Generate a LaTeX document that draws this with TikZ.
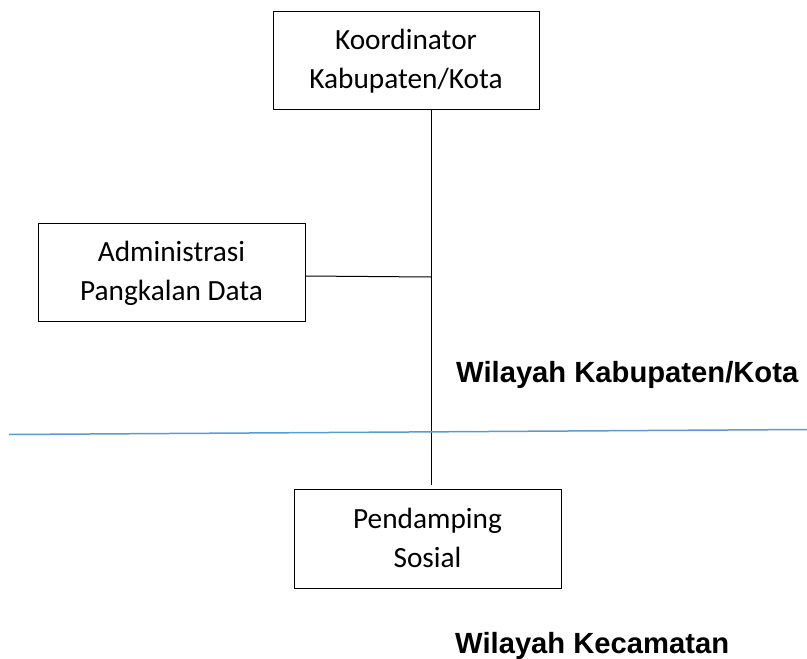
\documentclass[tikz,border=0pt]{standalone}
\usepackage{fontspec}
\setmainfont{Carlito}
\newfontfamily\arialfont{Liberation Sans}
\usetikzlibrary{calc}
\newcommand\lnstrut{\rule[-10pt]{0pt}{38pt}}
\tikzset{
  orgbox/.style={draw=black, line width=1pt, rectangle, align=center, inner sep=0pt,
    font=\fontsize{29.3}{39}\selectfont},
  linkline/.style={draw=black, line width=1pt},
  divider/.style={draw={rgb,255:red,91;green,155;blue,213}, line width=1.5pt},
  region/.style={font=\arialfont\bfseries\fontsize{29.2}{34}\selectfont, anchor=base west, inner sep=0pt}
}
\begin{document}
\begin{tikzpicture}[x=1pt,y=-1pt]
\useasboundingbox (0,0) rectangle (807,659);
\node[orgbox, minimum width=266pt, minimum height=98pt] (koord) at (406,60) {\lnstrut Koordinator\\\lnstrut Kabupaten/Kota};
\node[orgbox, minimum width=267pt, minimum height=98pt] (admin) at (171.5,272) {\lnstrut Administrasi\\\lnstrut Pangkalan Data};
\node[orgbox, minimum width=267pt, minimum height=99pt] (pend) at (427.5,538.5) {\lnstrut Pendamping\\\lnstrut Sosial};
\coordinate (vtop) at (431,109.5);
\coordinate (vbot) at (431,485);
\coordinate (bl) at (9,434.5);
\coordinate (br) at (807,429.5);
\draw[linkline] (vtop) -- (vbot);
\draw[linkline] ($(admin.east)+(0,4)$) -- ($(admin.east -| vtop)+(0,5)$);
\draw[divider] (bl) -- (br);
\node[region] (kab) at (456,382) {Wilayah Kabupaten/Kota};
\node[region] (kec) at (455,653) {Wilayah Kecamatan};
\end{tikzpicture}
\end{document}
